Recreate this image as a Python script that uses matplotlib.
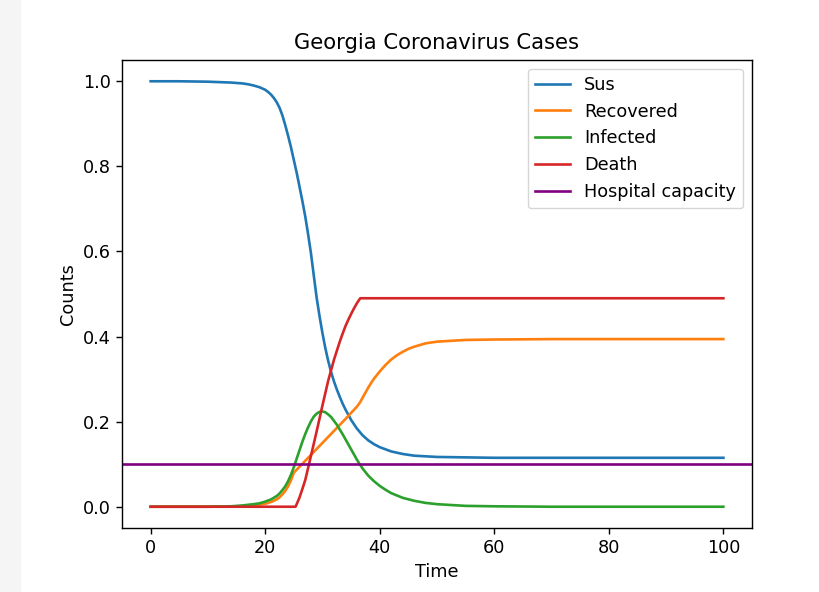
import matplotlib
matplotlib.use("Agg")
import matplotlib.pyplot as plt
from matplotlib.patches import Rectangle

# values
sus_t = [0, 5, 10, 12, 14, 15, 16, 17, 18, 19, 20, 20.5, 21, 21.5, 22, 22.5, 23, 23.5, 24,
         24.5, 25, 25.5, 26, 26.5, 27, 27.5, 28, 28.5, 29, 29.5, 30, 30.5, 31, 31.5, 32, 32.5,
         33, 33.5, 34, 35, 36, 37, 38, 39, 40, 42, 44, 46, 50, 55, 60, 70, 80, 90, 100]
sus = [1.0, 1.0, 0.999, 0.998, 0.997, 0.996, 0.995, 0.993, 0.99, 0.986, 0.98, 0.975, 0.969,
       0.961, 0.951, 0.938, 0.92, 0.897, 0.872, 0.845, 0.815, 0.785, 0.752, 0.718, 0.682,
       0.64, 0.595, 0.542, 0.49, 0.447, 0.408, 0.373, 0.343, 0.317, 0.295, 0.276, 0.259,
       0.243, 0.229, 0.204, 0.184, 0.168, 0.156, 0.147, 0.14, 0.13, 0.124, 0.12, 0.117, 0.116,
       0.115, 0.115, 0.115, 0.115, 0.115]

rec_t = [0, 10, 16, 18, 19, 20, 21, 22, 22.5, 23, 23.5, 24, 24.5, 25, 26, 28, 30, 32, 34, 36,
         36.6, 37, 37.5, 38, 38.5, 39, 40, 41, 42, 43, 44, 45, 46, 47, 48, 50, 55, 60, 70, 100]
recovered = [0, 0, 0.001, 0.003, 0.005, 0.007, 0.011, 0.017, 0.022, 0.029, 0.037, 0.048, 0.062,
             0.08, 0.094, 0.122, 0.15, 0.178, 0.206, 0.235, 0.246, 0.256, 0.268, 0.28, 0.291,
             0.301, 0.318, 0.333, 0.346, 0.356, 0.364, 0.371, 0.376, 0.38, 0.384, 0.388, 0.392,
             0.393, 0.394, 0.394]

inf_t = [0, 10, 14, 16, 18, 19, 20, 21, 22, 22.5, 23, 23.5, 24, 24.5, 25, 25.5, 26, 26.5, 27,
         27.5, 28, 28.5, 29, 29.5, 30, 30.5, 31, 31.5, 32, 32.5, 33, 33.5, 34, 34.5, 35, 35.5,
         36, 36.5, 37, 38, 39, 40, 41, 42, 44, 46, 48, 50, 55, 60, 70, 100]
infected = [0, 0, 0.001, 0.003, 0.006, 0.008, 0.012, 0.017, 0.025, 0.031, 0.039, 0.048, 0.06,
            0.075, 0.093, 0.113, 0.133, 0.153, 0.171, 0.187, 0.201, 0.212, 0.219, 0.223, 0.224,
            0.222, 0.217, 0.211, 0.202, 0.193, 0.182, 0.171, 0.159, 0.147, 0.135, 0.123, 0.111,
            0.1, 0.09, 0.073, 0.06, 0.049, 0.04, 0.032, 0.021, 0.014, 0.009, 0.006, 0.002,
            0.001, 0, 0]

death_t = [0, 10, 20, 25.3, 25.5, 26, 26.5, 27, 28, 29, 30, 31, 32, 33, 33.5, 34, 34.5, 35,
           35.5, 36, 36.6, 50, 75, 100]
death = [0, 0, 0, 0, 0.006, 0.022, 0.042, 0.063, 0.12, 0.178, 0.238, 0.296, 0.345, 0.387,
         0.406, 0.424, 0.439, 0.453, 0.466, 0.478, 0.49, 0.49, 0.49, 0.49]

capacity = 0.1

s = 1.268  # screenshot scale relative to default figure
plt.rcParams.update({"font.size": 10 * s, "axes.linewidth": 0.8 * s,
                     "xtick.major.size": 3.5 * s, "ytick.major.size": 3.5 * s,
                     "xtick.major.width": 0.8 * s, "ytick.major.width": 0.8 * s,
                     "lines.linewidth": 1.5 * s})

fig = plt.figure(figsize=(8.2, 5.92), dpi=100)
fig.patches.append(Rectangle((0, 0), 20 / 820, 1, transform=fig.transFigure,
                             color="#f5f5f5", zorder=-1))
ax = fig.add_axes([122 / 820, 64 / 592, 630 / 820, 468 / 592])

ax.plot(sus_t, sus, label="Sus")
ax.plot(rec_t, recovered, label="Recovered")
ax.plot(inf_t, infected, label="Infected")
ax.plot(death_t, death, label="Death")
ax.axhline(capacity, color="purple", label="Hospital capacity")

ax.set_title("Georgia Coronavirus Cases", pad=6 * s)
ax.set_xlabel("Time")
ax.set_ylabel("Counts")
ax.legend(loc="upper right")

fig.savefig("out.png", dpi=100)
